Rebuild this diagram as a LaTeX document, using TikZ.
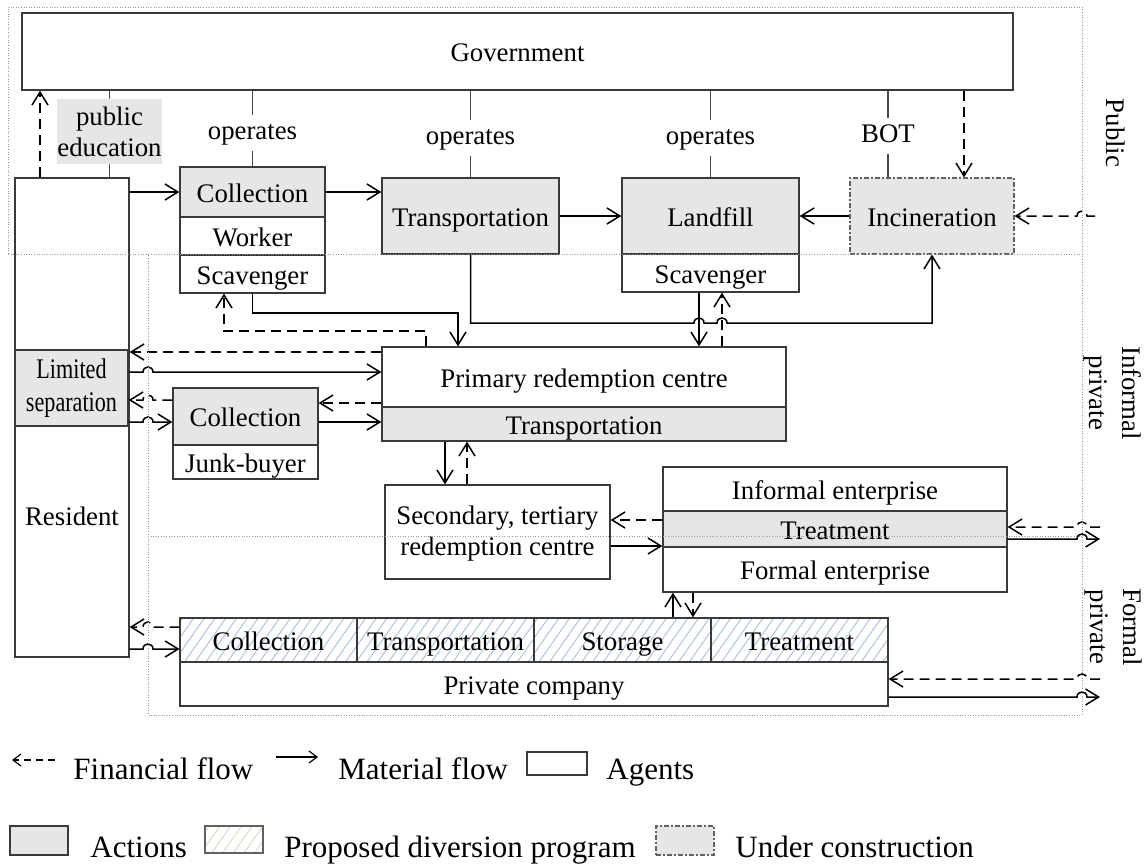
\documentclass[tikz,border=0pt]{standalone}
\usepackage{fontspec}
\setmainfont{Liberation Serif}
\usetikzlibrary{arrows.meta,patterns.meta}
\definecolor{actgray}{HTML}{E6E6E6}
\definecolor{edge}{HTML}{3A3A3A}
\definecolor{hatchblue}{HTML}{A9BEDC}
\definecolor{hatchleg}{HTML}{D6DBBE}
\definecolor{zone}{HTML}{9A9A9A}
\newcommand\bodysize{\fontsize{13.4}{15.5}\selectfont}
\newcommand\legsize{\fontsize{15.5}{18}\selectfont}

\begin{document}
\begin{tikzpicture}[x=0.5pt,y=-0.5pt,
  every node/.style={font=\bodysize, text=black},
  oneline/.style={text height=12pt, text depth=2pt},
  agentm/.style={draw=edge, line width=0.65pt, fill=white, inner sep=0pt, align=center},
  agent/.style={agentm, oneline},
  actionm/.style={agentm, fill=actgray},
  action/.style={agent, fill=actgray},
  planned/.style={draw=edge, line width=0.65pt, inner sep=0pt, align=center, oneline,
    pattern={Lines[angle=55,distance=4.4pt,line width=0.45pt]}, pattern color=hatchblue},
  building/.style={fill=actgray, draw=edge!80, line width=0.55pt, oneline,
    dash pattern=on 2.5pt off 1.2pt on 0.6pt off 1.2pt, inner sep=0pt, align=center},
  tie/.style={draw=black!70, line width=0.6pt},
  lab/.style={inner sep=2.5pt, text height=9.4pt, text depth=2.9pt},
  mat/.style={draw=black, line width=0.75pt, -{Straight Barb[length=6.5pt,width=8pt]}},
  fin/.style={mat, dash pattern=on 5pt off 3pt},
  legmat/.style={draw=black, line width=0.6pt, -{Straight Barb[length=4pt,width=6pt]}},
  legfin/.style={legmat, dash pattern=on 3.5pt off 2.5pt},
  zoneline/.style={draw=zone, line width=0.45pt, dash pattern=on 0.5pt off 0.8pt},
  sidelab/.style={rotate=-90, align=center, inner sep=0pt},
]
\fill[white] (0,0) rectangle (1148,864);
\useasboundingbox (0,0) rectangle (1148,864);

% ---------- agents and actions ----------
\node[agent, minimum width=495.5pt, minimum height=38.5pt] (gov) at (517.5,51.5) {Government};
\node[agentm, minimum width=57pt, minimum height=239.5pt] (res) at (72,417.5) {};
\node[oneline] (restext) at (72,515) {Resident};
\node[actionm, minimum width=56.5pt, minimum height=38pt, font=\fontsize{14.2}{16}\selectfont] (lsep) at (71.5,388)
  {\scalebox{0.78}[1]{Limited}\\[0.5pt]\scalebox{0.78}[1]{separation}};
\node[fill=actgray, inner sep=0pt, minimum width=52.5pt, minimum height=32.5pt, align=center] (pubed) at (109.5,131.5) {public\\education};

\node[action, minimum width=72.5pt, minimum height=25pt] (col1) at (252.5,192) {Collection};
\node[agent, minimum width=72.5pt, minimum height=19pt] (work) at (252.5,236) {Worker};
\node[agent, minimum width=72.5pt, minimum height=19pt] (scav1) at (252.5,274) {Scavenger};

\node[action, minimum width=88.5pt, minimum height=38pt] (trans1) at (470.5,216) {Transportation};
\node[action, minimum width=88.5pt, minimum height=38pt] (land) at (710.5,216) {Landfill};
\node[agent, minimum width=88.5pt, minimum height=19pt] (lscav) at (710.5,273) {Scavenger};
\node[building, minimum width=82pt, minimum height=38pt] (incin) at (932,216) {Incineration};

\node[agent, minimum width=202pt, minimum height=30pt] (prim) at (584,377) {Primary redemption centre};
\node[action, minimum width=202pt, minimum height=17pt] (trans2) at (584,424) {Transportation};

\node[action, minimum width=72.5pt, minimum height=28.5pt] (jcol) at (245.5,416.5) {Collection};
\node[agent, minimum width=72.5pt, minimum height=17pt] (jbuy) at (245.5,462) {Junk-buyer};

\node[agentm, minimum width=112.5pt, minimum height=47pt] (sec) at (497.5,532) {\rule{0pt}{11pt}Secondary, tertiary\\redemption centre};

\node[agent, minimum width=172pt, minimum height=22pt] (inf) at (835,489) {Informal enterprise};
\node[action, minimum width=172pt, minimum height=18pt] (treat) at (835,529) {Treatment};
\node[agent, minimum width=172pt, minimum height=22.5pt] (form) at (835,569.5) {Formal enterprise};

\node[planned, minimum width=88.5pt, minimum height=22pt] (pcol) at (268.5,640) {Collection};
\node[planned, minimum width=88.5pt, minimum height=22pt] (ptra) at (445.5,640) {Transportation};
\node[planned, minimum width=88.5pt, minimum height=22pt] (stor) at (622.5,640) {Storage};
\node[planned, minimum width=88.5pt, minimum height=22pt] (ptre) at (799.5,640) {Treatment};
\node[agent, minimum width=354pt, minimum height=22pt] (comp) at (534,684) {Private company};

% ---------- relations to the government ----------
\node[lab] (op1) at (252.5,133) {operates};
\node[lab] (op2) at (470.5,138) {operates};
\node[lab] (op3) at (710.5,138) {operates};
\node[lab] (bot) at (888,136) {BOT};
\draw[tie] (op1.north |- gov.south) -- (op1.north);
\draw[tie] (op1.south) -- (col1.north);
\draw[tie] (op2.north |- gov.south) -- (op2.north);
\draw[tie] (op2.south) -- (trans1.north);
\draw[tie] (op3.north |- gov.south) -- (op3.north);
\draw[tie] (op3.south) -- (land.north);
\draw[tie] (bot.north |- gov.south) -- (bot.north);
\draw[tie] (bot.south) -- (bot.south |- incin.north);
\draw[tie] (pubed.north |- gov.south) -- (pubed.north);
\draw[tie] (pubed.south) -- (pubed.south |- res.north);

% ---------- free ends on the right ----------
\coordinate (e1) at (1095,216);
\coordinate (e2) at (1100,527);
\coordinate (e3) at (1100,539);
\coordinate (e4) at (1100,679);
\coordinate (e5) at (1100,697);

% ---------- flows ----------
\draw[fin] (res.north -| 40,0) -- (gov.south -| 40,0);
\draw[fin] (gov.south -| 964,0) -- (incin.north -| 964,0);
\draw[mat] (res.east |- col1.west) -- (col1.west);
\draw[mat] (col1.east) -- (trans1.west |- col1.east);
\draw[mat] (trans1.east) -- (land.west);
\draw[mat] (incin.west) -- (land.east);
\draw[fin] (e1) -- (1087,216) .. controls (1087,209.3) and (1077,209.3) .. (1077,216) -- (incin.east);

\draw[mat] (trans1.south) -- (trans1.south |- 0,323) -- (694,323)
  .. controls (694,316.3) and (704,316.3) .. (704,323) -- (717,323)
  .. controls (717,316.3) and (727,316.3) .. (727,323) -- (incin.south |- 0,323) -- (incin.south);
\draw[mat] (lscav.south -| 699,0) -- (prim.north -| 699,0);
\draw[fin] (prim.north -| 722,0) -- (lscav.south -| 722,0);

\draw[mat] (scav1.south) -- (scav1.south |- 0,313) -- (458,313) -- (prim.north -| 458,0);
\draw[fin] (prim.north -| 426,0) -- (426,331) -- (224,331) -- (scav1.south -| 224,0);

\draw[fin] (prim.west |- 0,352) -- (res.east |- 0,352);
\draw[mat] (lsep.east |- 0,372) -- (143,372) .. controls (143,365.3) and (153,365.3) .. (153,372) -- (prim.west |- 0,372);
\draw[fin] (jcol.west |- 0,400) -- (153,400) .. controls (153,393.3) and (143,393.3) .. (143,400) -- (lsep.east |- 0,400);
\draw[mat] (lsep.east |- 0,422) -- (143,422) .. controls (143,415.3) and (153,415.3) .. (153,422) -- (jcol.west |- 0,422);
\draw[fin] (prim.west |- 0,403) -- (jcol.east |- 0,403);
\draw[mat] (jcol.east |- 0,422) -- (trans2.west |- 0,422);

\draw[mat] (trans2.south -| 445,0) -- (sec.north -| 445,0);
\draw[fin] (sec.north -| 467,0) -- (trans2.south -| 467,0);
\draw[fin] (treat.west |- 0,520) -- (sec.east |- 0,520);
\draw[mat] (sec.east |- 0,546) -- (treat.west |- 0,546);

\draw[fin] (e2) -- (1087,527) .. controls (1087,520.3) and (1077,520.3) .. (1077,527) -- (treat.east |- 0,527);
\draw[mat] (treat.east |- 0,539) -- (1077,539) .. controls (1077,532.3) and (1087,532.3) .. (1087,539) -- (e3);

\draw[mat] (stor.north -| 673,0) -- (form.south -| 673,0);
\draw[fin] (form.south -| 693,0) -- (stor.north -| 693,0);

\draw[fin] (pcol.west |- 0,627) -- (153,627) .. controls (153,620.3) and (143,620.3) .. (143,627) -- (res.east |- 0,627);
\draw[mat] (res.east |- 0,649) -- (143,649) .. controls (143,642.3) and (153,642.3) .. (153,649) -- (pcol.west |- 0,649);

\draw[fin] (e4) -- (1087,679) .. controls (1087,672.3) and (1077,672.3) .. (1077,679) -- (comp.east |- 0,679);
\draw[mat] (comp.east |- 0,697) -- (1077,697) .. controls (1077,690.3) and (1087,690.3) .. (1087,697) -- (e5);

% ---------- sector zones ----------
\draw[zoneline] (8,254) -- (8,7) -- (1082,7) -- (1082,715) -- (148,715) -- (148,254);
\draw[zoneline] (8,254) -- (1082,254);
\draw[zoneline] (148,536) -- (1082,536);
\node[sidelab] (zpub) at (1116,133) {Public};
\node[sidelab, font=\fontsize{13.4}{16.5}\selectfont] (zinf) at (1113,393) {Informal\\private};
\node[sidelab, font=\fontsize{13.4}{16.5}\selectfont] (zfor) at (1113,627) {Formal\\private};

% ---------- legend ----------
\coordinate (l1a) at (55,760);
\coordinate (l1b) at (12,760);
\coordinate (l2a) at (276,757);
\coordinate (l2b) at (318,757);
\draw[legfin] (l1a) -- (l1b);
\draw[legmat] (l2a) -- (l2b);
\node[agentm, minimum width=30pt, minimum height=11.5pt] (kagent) at (557,763.5) {};
\node[anchor=base west, font=\legsize, inner sep=0pt] at (73,779) {Financial flow};
\node[anchor=base west, font=\legsize, inner sep=0pt] at (338,779) {Material flow};
\node[anchor=base west, font=\legsize, inner sep=0pt] at (606,779) {Agents};

\node[actionm, minimum width=29pt, minimum height=14.5pt] (kact) at (39,840.5) {};
\node[draw=edge!80, line width=0.55pt, inner sep=0pt, minimum width=29pt, minimum height=13.5pt,
  pattern={Lines[angle=55,distance=4.4pt,line width=0.45pt]}, pattern color=hatchleg] (kplan) at (234,839.5) {};
\node[building, minimum width=29pt, minimum height=14.5pt] (kbuild) at (685,840.5) {};
\node[anchor=base west, font=\legsize, inner sep=0pt] at (90,857) {Actions};
\node[anchor=base west, font=\legsize, inner sep=0pt] at (284,857) {Proposed diversion program};
\node[anchor=base west, font=\legsize, inner sep=0pt] at (735,857) {Under construction};
\end{tikzpicture}
\end{document}
